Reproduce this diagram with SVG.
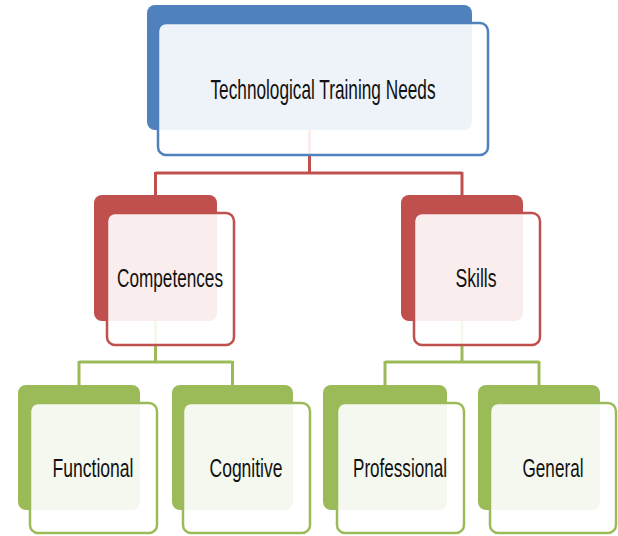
<svg xmlns="http://www.w3.org/2000/svg" width="618" height="536" viewBox="0 0 618 536">
<style>
.bg{fill:#ffffff}
.conn{fill:none;stroke-width:3}
.back{stroke:none}
.front{fill:#ffffff;fill-opacity:0.9;stroke-width:2.5}
.blue .back{fill:#4F81BD}.blue .front{stroke:#4F81BD}
.red .back{fill:#C0504D}.red .front{stroke:#C0504D}
.green .back{fill:#9BBB59}.green .front{stroke:#9BBB59}
text{font-family:"Liberation Sans",Arial,sans-serif;fill:#111111;text-anchor:middle}
.t1{font-size:28px}
.t2{font-size:25px}
</style>
<rect class="bg" width="618" height="536"/>
<g id="connectors">
<path class="conn" stroke="#C0504D" d="M309.5,130 V173 M155.5,173 H462 M155.5,172 V195 M462,172 V195"/>
<path class="conn" stroke="#9BBB59" d="M155.5,321 V362 M79,362 H232.5 M79,361 V385 M232.5,361 V385"/>
<path class="conn" stroke="#9BBB59" d="M462,321 V362 M385,362 H539 M385,361 V385 M539,361 V385"/>
</g>
<g id="node-root" class="blue">
<rect class="back" x="147" y="5" width="325" height="125" rx="8"/>
<rect class="front" x="158" y="23" width="330" height="132" rx="8"/>
<text class="t1" x="323" y="99" textLength="225" lengthAdjust="spacingAndGlyphs">Technological Training Needs</text>
</g>
<g id="node-competences" class="red">
<rect class="back" x="94" y="195" width="123" height="126" rx="8"/>
<rect class="front" x="107" y="213" width="127" height="132" rx="8"/>
<text class="t2" x="170" y="287" textLength="106" lengthAdjust="spacingAndGlyphs">Competences</text>
</g>
<g id="node-skills" class="red">
<rect class="back" x="401" y="195" width="122" height="126" rx="8"/>
<rect class="front" x="414" y="213" width="126" height="132" rx="8"/>
<text class="t2" x="476" y="287" textLength="41" lengthAdjust="spacingAndGlyphs">Skills</text>
</g>
<g id="node-functional" class="green">
<rect class="back" x="18" y="385" width="122" height="125" rx="8"/>
<rect class="front" x="30" y="403" width="127" height="130" rx="8"/>
<text class="t2" x="93" y="477" textLength="81" lengthAdjust="spacingAndGlyphs">Functional</text>
</g>
<g id="node-cognitive" class="green">
<rect class="back" x="172" y="385" width="121" height="125" rx="8"/>
<rect class="front" x="183" y="403" width="127" height="130" rx="8"/>
<text class="t2" x="246" y="477" textLength="73" lengthAdjust="spacingAndGlyphs">Cognitive</text>
</g>
<g id="node-professional" class="green">
<rect class="back" x="323" y="385" width="124" height="125" rx="8"/>
<rect class="front" x="337" y="403" width="127" height="130" rx="8"/>
<text class="t2" x="400" y="477" textLength="94" lengthAdjust="spacingAndGlyphs">Professional</text>
</g>
<g id="node-general" class="green">
<rect class="back" x="478" y="385" width="122" height="125" rx="8"/>
<rect class="front" x="490" y="403" width="126" height="130" rx="8"/>
<text class="t2" x="553" y="477" textLength="61" lengthAdjust="spacingAndGlyphs">General</text>
</g>
</svg>
